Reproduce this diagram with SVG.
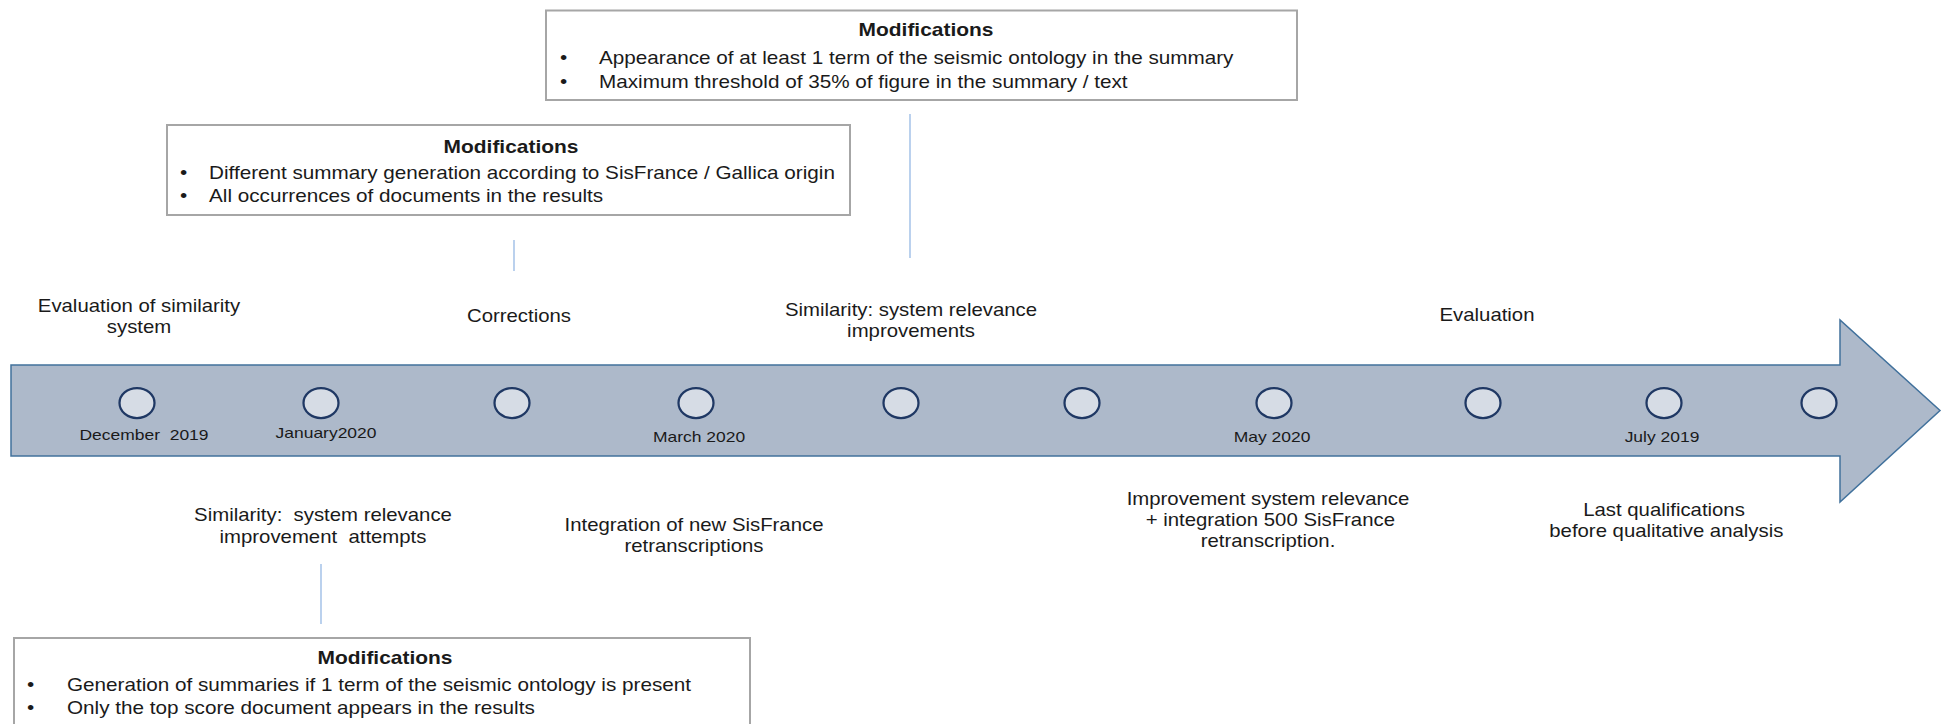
<svg xmlns="http://www.w3.org/2000/svg" width="1946" height="724" viewBox="0 0 1946 724">
  <style>
    text { font-family: "Liberation Sans", Arial, sans-serif; fill: #1a1a1a; }
    .lbl { font-size: 17.7px; text-anchor: middle; }
    .date { font-size: 15.2px; text-anchor: middle; }
    .mod-title { font-size: 18.2px; font-weight: bold; text-anchor: middle; }
    .mod-item { font-size: 18px; }
    .box { fill: #ffffff; stroke: #a6a6a6; stroke-width: 2; }
    .stop { fill: #d6dce5; stroke: #1f3864; stroke-width: 2.25; }
    .lead { stroke: #8db3e2; stroke-width: 1.2; fill: none; }
    .arrow { fill: #adb9ca; stroke: #41719c; stroke-width: 1.5; }
  </style>

  <!-- timeline arrow -->
  <g id="timeline">
    <polygon class="arrow" points="11,365 1840,365 1840,320 1940,410.5 1840,502 1840,456 11,456"/>
  </g>

  <!-- connectors between boxes and timeline labels -->
  <g id="connectors">
    <line class="lead" x1="514" y1="240" x2="514" y2="271"/>
    <line class="lead" x1="910" y1="114" x2="910" y2="258"/>
    <line class="lead" x1="321" y1="564" x2="321" y2="624"/>
  </g>

  <!-- stops on the timeline -->
  <g id="stop-1"><ellipse class="stop" cx="137" cy="403" rx="17.5" ry="15"/></g>
  <g id="stop-2"><ellipse class="stop" cx="321" cy="403" rx="17.5" ry="15"/></g>
  <g id="stop-3"><ellipse class="stop" cx="512" cy="403" rx="17.5" ry="15"/></g>
  <g id="stop-4"><ellipse class="stop" cx="696" cy="403" rx="17.5" ry="15"/></g>
  <g id="stop-5"><ellipse class="stop" cx="901" cy="403" rx="17.5" ry="15"/></g>
  <g id="stop-6"><ellipse class="stop" cx="1082" cy="403" rx="17.5" ry="15"/></g>
  <g id="stop-7"><ellipse class="stop" cx="1274" cy="403" rx="17.5" ry="15"/></g>
  <g id="stop-8"><ellipse class="stop" cx="1483" cy="403" rx="17.5" ry="15"/></g>
  <g id="stop-9"><ellipse class="stop" cx="1664" cy="403" rx="17.5" ry="15"/></g>
  <g id="stop-10"><ellipse class="stop" cx="1819" cy="403" rx="17.5" ry="15"/></g>

  <!-- dates inside the arrow -->
  <g id="date-dec-2019"><text class="date" xml:space="preserve" transform="translate(144 440) scale(1.15 1)">December  2019</text></g>
  <g id="date-jan-2020"><text class="date" transform="translate(326 438) scale(1.15 1)">January2020</text></g>
  <g id="date-mar-2020"><text class="date" transform="translate(699 442) scale(1.15 1)">March 2020</text></g>
  <g id="date-may-2020"><text class="date" transform="translate(1272 442) scale(1.15 1)">May 2020</text></g>
  <g id="date-jul-2019"><text class="date" transform="translate(1662 442) scale(1.15 1)">July 2019</text></g>

  <!-- phases above the arrow -->
  <g id="phase-evaluation-similarity">
    <text class="lbl" transform="translate(139 312) scale(1.15 1)"><tspan x="0">Evaluation of similarity</tspan><tspan x="0" dy="21">system</tspan></text>
  </g>
  <g id="phase-corrections">
    <text class="lbl" transform="translate(519 322) scale(1.15 1)">Corrections</text>
  </g>
  <g id="phase-relevance-improvements">
    <text class="lbl" transform="translate(911 316) scale(1.15 1)"><tspan x="0">Similarity: system relevance</tspan><tspan x="0" dy="21">improvements</tspan></text>
  </g>
  <g id="phase-evaluation">
    <text class="lbl" transform="translate(1487 321) scale(1.15 1)">Evaluation</text>
  </g>

  <!-- phases below the arrow -->
  <g id="phase-improvement-attempts">
    <text class="lbl" xml:space="preserve" transform="translate(323 521) scale(1.15 1)"><tspan x="0">Similarity:  system relevance</tspan><tspan x="0" dy="22">improvement  attempts</tspan></text>
  </g>
  <g id="phase-integration">
    <text class="lbl" transform="translate(694 531) scale(1.15 1)"><tspan x="0">Integration of new SisFrance</tspan><tspan x="0" dy="21">retranscriptions</tspan></text>
  </g>
  <g id="phase-improvement-integration">
    <text class="lbl" transform="translate(1268 505) scale(1.15 1)"><tspan x="0">Improvement system relevance</tspan><tspan x="2" dy="21">+ integration 500 SisFrance</tspan><tspan x="0" dy="21">retranscription.</tspan></text>
  </g>
  <g id="phase-last-qualifications">
    <text class="lbl" transform="translate(1664 516) scale(1.15 1)"><tspan x="0">Last qualifications</tspan><tspan x="2" dy="21">before qualitative analysis</tspan></text>
  </g>

  <!-- modification notes -->
  <g id="mods-march">
    <rect class="box" x="546" y="10.5" width="751" height="89.5"/>
    <text class="mod-title" transform="translate(926 36) scale(1.15 1)">Modifications</text>
    <text class="mod-item" transform="translate(560 64) scale(1.15 1)">•</text>
    <text class="mod-item" transform="translate(599 64) scale(1.15 1)">Appearance of at least 1 term of the seismic ontology in the summary</text>
    <text class="mod-item" transform="translate(560 88) scale(1.15 1)">•</text>
    <text class="mod-item" transform="translate(599 88) scale(1.15 1)">Maximum threshold of 35% of figure in the summary / text</text>
  </g>

  <g id="mods-january">
    <rect class="box" x="167" y="125" width="683" height="90"/>
    <text class="mod-title" transform="translate(511 153) scale(1.15 1)">Modifications</text>
    <text class="mod-item" transform="translate(180 179) scale(1.15 1)">•</text>
    <text class="mod-item" transform="translate(209 179) scale(1.15 1)">Different summary generation according to SisFrance / Gallica origin</text>
    <text class="mod-item" transform="translate(180 202) scale(1.15 1)">•</text>
    <text class="mod-item" transform="translate(209 202) scale(1.15 1)">All occurrences of documents in the results</text>
  </g>

  <g id="mods-december">
    <rect class="box" x="14" y="638" width="736" height="100"/>
    <text class="mod-title" transform="translate(385 664) scale(1.15 1)">Modifications</text>
    <text class="mod-item" transform="translate(27 691) scale(1.15 1)">•</text>
    <text class="mod-item" transform="translate(67 691) scale(1.15 1)">Generation of summaries if 1 term of the seismic ontology is present</text>
    <text class="mod-item" transform="translate(27 714) scale(1.15 1)">•</text>
    <text class="mod-item" transform="translate(67 714) scale(1.15 1)">Only the top score document appears in the results</text>
  </g>
</svg>
